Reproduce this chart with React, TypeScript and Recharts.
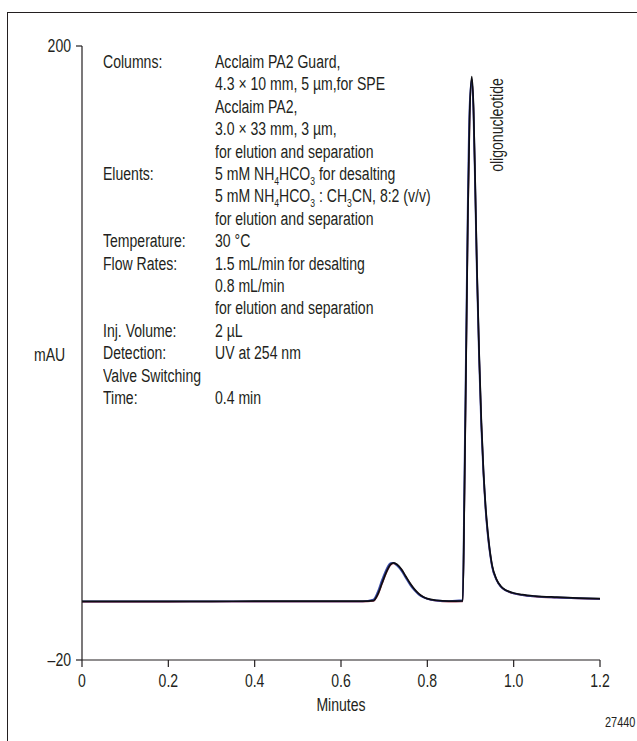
import { LineChart, Line, XAxis, YAxis } from "recharts";

// chromatogram samples (minutes)
const time = [
  0, 0.1, 0.2, 0.3, 0.4, 0.5, 0.6, 0.65, 0.675, 0.685, 0.695, 0.705, 0.715,
  0.722, 0.73, 0.74, 0.75, 0.76, 0.77, 0.78, 0.79, 0.8, 0.82, 0.85, 0.882,
  0.886, 0.89, 0.894, 0.898, 0.903, 0.907, 0.911, 0.915, 0.92, 0.925, 0.93,
  0.935, 0.94, 0.945, 0.95, 0.96, 0.97, 0.98, 0.99, 1.0, 1.02, 1.05, 1.1,
  1.15, 1.2,
];

// mAU, black trace
const blackTrace = [
  1, 1, 1, 1, 1.1, 1.1, 1.1, 1.1, 1.3, 3.5, 7.5, 11.5, 14.3, 14.8, 14.2,
  12.5, 10, 7.5, 5.4, 3.8, 2.7, 2.0, 1.4, 1.1, 1.2, 40, 90, 140, 175, 189,
  178, 150, 120, 90, 66, 48, 35, 26, 19, 14, 9, 6.5, 5.2, 4.5, 4, 3.4, 2.9,
  2.5, 2.2, 2,
];

// mAU, blue trace
const blueTrace = [
  1, 1, 1, 1, 1, 1, 1, 1, 1.6, 4.3, 8.6, 12.4, 14.7, 14.8, 13.8, 12.0, 9.5,
  7.0, 5.0, 3.5, 2.5, 1.9, 1.3, 1.1, 1.4, 45, 95, 145, 178, 188, 176, 148,
  118, 88, 64, 47, 34, 25, 18.5, 13.5, 8.8, 6.3, 5.1, 4.4, 3.9, 3.3, 2.8,
  2.4, 2.1, 1.9,
];

// mAU, red trace
const redTrace = [
  0.8, 0.8, 0.8, 0.9, 0.9, 0.9, 0.9, 0.9, 1.1, 3.2, 7.2, 11.2, 14.0, 14.6,
  14.0, 12.4, 9.9, 7.4, 5.3, 3.7, 2.6, 1.9, 1.2, 0.9, 1.0, 38, 88, 138, 174,
  188, 177, 149, 119, 89, 65, 47, 34, 25, 18.5, 13.5, 8.8, 6.3, 5.0, 4.3,
  3.8, 3.2, 2.7, 2.3, 2.0, 1.8,
];

const xTicks = [0, 0.2, 0.4, 0.6, 0.8, 1.0, 1.2];
const xTickLabels = ["0", "0.2", "0.4", "0.6", "0.8", "1.0", "1.2"];
const yTicks = [-20, 200];
const yTickLabels = ["\u201320", "200"];

// conditions block, "_n" marks a subscript digit
const condLabels = [
  "Columns:", "", "", "", "",
  "Eluents:", "", "",
  "Temperature:",
  "Flow Rates:", "", "",
  "Inj. Volume:",
  "Detection:",
  "Valve Switching",
  "Time:",
];
const condValues = [
  "Acclaim PA2 Guard,",
  "4.3 \u00d7 10 mm, 5 \u00b5m,for SPE",
  "Acclaim PA2,",
  "3.0 \u00d7 33 mm, 3 \u00b5m,",
  "for elution and separation",
  "5 mM NH_4HCO_3 for desalting",
  "5 mM NH_4HCO_3 : CH_3CN, 8:2 (v/v)",
  "for elution and separation",
  "30 \u00b0C",
  "1.5 mL/min for desalting",
  "0.8 mL/min",
  "for elution and separation",
  "2 \u00b5L",
  "UV at 254 nm",
  "",
  "0.4 min",
];

// no condensed font installed, so squeeze Liberation Sans horizontally
const FONT = '"Liberation Sans", Arial, sans-serif';
const FS = 18;
const SQUEEZE = 0.78;
const INK = "#231f20";

const chartData = time.map((t, i) => ({
  t,
  black: blackTrace[i],
  blue: blueTrace[i],
  red: redTrace[i],
}));

function withSubs(text: string) {
  const parts = text.split(/(_\d)/);
  return parts.map((p, i) =>
    p.startsWith("_") ? (
      <span key={i} style={{ fontSize: 11, verticalAlign: -5 }}>
        {p.slice(1)}
      </span>
    ) : (
      <span key={i}>{p}</span>
    )
  );
}

function XTick(props: any) {
  const { x, y, payload } = props;
  const label = xTickLabels[xTicks.indexOf(payload.value)] ?? String(payload.value);
  return (
    <g transform={`translate(${x},${y})`}>
      <text
        transform={`scale(${SQUEEZE},1)`}
        textAnchor="middle"
        dy="0.71em"
        fill={INK}
        fontSize={FS}
        fontFamily={FONT}
      >
        {label}
      </text>
    </g>
  );
}

function YTick(props: any) {
  const { x, y, payload } = props;
  const label = yTickLabels[yTicks.indexOf(payload.value)] ?? String(payload.value);
  return (
    <g transform={`translate(${x},${y})`}>
      <text
        transform={`scale(${SQUEEZE},1)`}
        textAnchor="end"
        dy="0.355em"
        fill={INK}
        fontSize={FS}
        fontFamily={FONT}
      >
        {label}
      </text>
    </g>
  );
}

const squeezed = () => ({
  position: "absolute" as const,
  whiteSpace: "nowrap" as const,
  fontSize: FS,
  lineHeight: "20px",
  transformOrigin: "0 50%",
  transform: `scaleX(${SQUEEZE})`,
});

export default function App() {
  return (
    <div
      style={{
        position: "absolute",
        left: 0,
        top: 0,
        width: 637,
        height: 741,
        background: "#fff",
        overflow: "hidden",
        fontFamily: FONT,
        color: INK,
      }}
    >
      {/* frame */}
      <div
        style={{
          position: "absolute",
          left: 7,
          top: 12,
          width: 640,
          height: 740,
          borderTop: `1.5px solid ${INK}`,
          borderLeft: `1.5px solid ${INK}`,
        }}
      />
      <LineChart
        width={637}
        height={741}
        data={chartData}
        margin={{ top: 46, right: 37, left: 0, bottom: 21 }}
        style={{ position: "absolute", left: 0, top: 0 }}
      >
        <XAxis
          dataKey="t"
          type="number"
          domain={[0, 1.2]}
          ticks={xTicks}
          height={60}
          tickSize={7}
          tickMargin={7}
          axisLine={{ stroke: INK, strokeWidth: 1.2 }}
          tickLine={{ stroke: INK, strokeWidth: 1.2 }}
          tick={<XTick />}
        />
        <YAxis
          type="number"
          domain={[-20, 200]}
          ticks={yTicks}
          width={82}
          tickSize={6}
          tickMargin={5}
          axisLine={{ stroke: INK, strokeWidth: 1.2 }}
          tickLine={{ stroke: INK, strokeWidth: 1.2 }}
          tick={<YTick />}
        />
        <Line
          type="monotone"
          dataKey="red"
          stroke="#a0405a"
          strokeWidth={1.5}
          dot={false}
          isAnimationActive={false}
        />
        <Line
          type="monotone"
          dataKey="blue"
          stroke="#3a4aa8"
          strokeWidth={1.9}
          dot={false}
          isAnimationActive={false}
        />
        <Line
          type="monotone"
          dataKey="black"
          stroke="#0d0d12"
          strokeWidth={1.7}
          dot={false}
          isAnimationActive={false}
        />
      </LineChart>

      {/* conditions */}
      {condLabels.map((lab, i) => (
        <div key={"l" + i} style={{ ...squeezed(), left: 103, top: 62 + i * 22.4 - 10 }}>
          {lab}
        </div>
      ))}
      {condValues.map((val, i) => (
        <div key={"v" + i} style={{ ...squeezed(), left: 215, top: 62 + i * 22.4 - 10 }}>
          {withSubs(val)}
        </div>
      ))}

      {/* axis titles */}
      <div style={{ ...squeezed(), left: 34, top: 345 }}>mAU</div>
      <div
        style={{
          ...squeezed(),
          left: 341,
          top: 695,
          transformOrigin: "50% 50%",
          transform: `translateX(-50%) scaleX(${SQUEEZE})`,
        }}
      >
        Minutes
      </div>

      {/* peak label */}
      <div
        style={{
          ...squeezed(),
          left: 497,
          top: 125,
          transformOrigin: "50% 50%",
          transform: `translate(-50%, -50%) rotate(-90deg) scaleX(${SQUEEZE})`,
        }}
      >
        oligonucleotide
      </div>

      <div style={{ ...squeezed(), left: 605, top: 712, fontSize: 14 }}>27440</div>
    </div>
  );
}
